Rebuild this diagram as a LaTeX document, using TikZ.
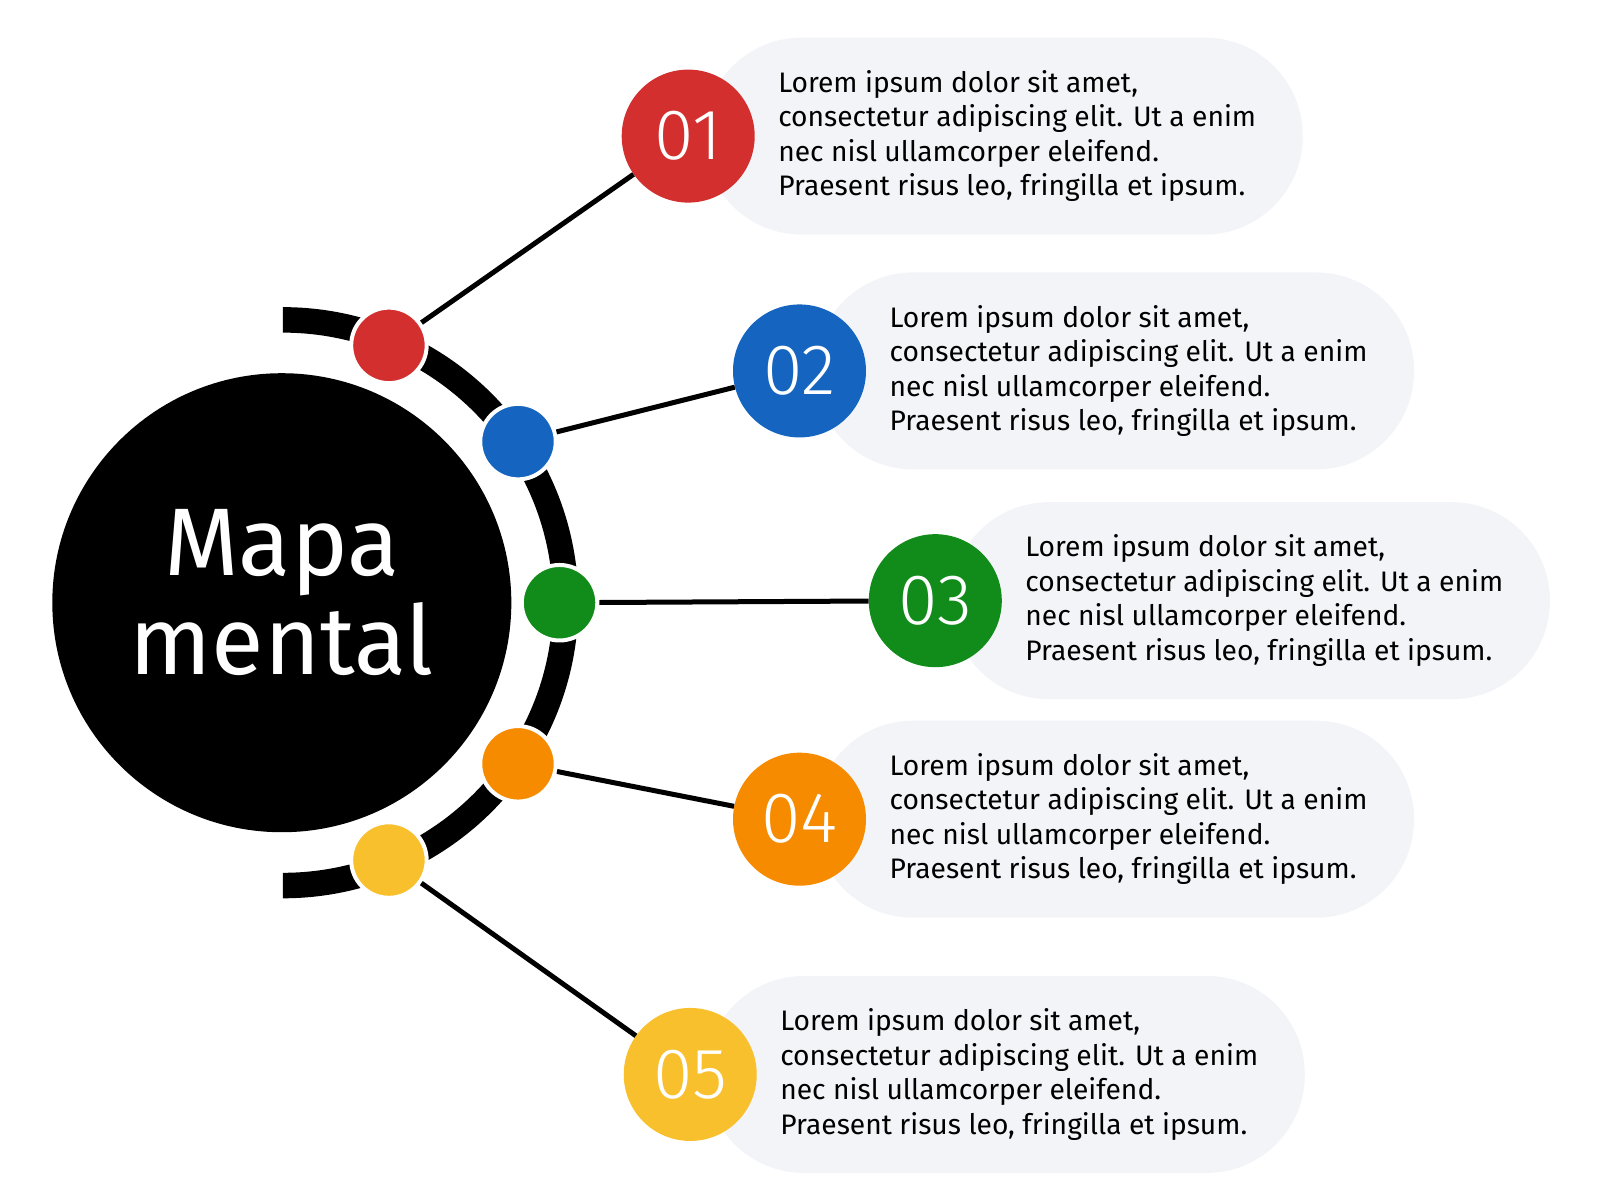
\documentclass[tikz,border=0pt]{standalone}
\usepackage{fontspec}
\setmainfont{Fira Sans}
\newfontfamily\numfont{Fira Sans Light}
\usetikzlibrary{positioning}
\definecolor{mred}{HTML}{D32F2F}
\definecolor{mblue}{HTML}{1565C0}
\definecolor{mgreen}{HTML}{118C1A}
\definecolor{morange}{HTML}{F78B00}
\definecolor{myellow}{HTML}{F9C02E}
\definecolor{pillgray}{HTML}{F3F4F8}
\tikzset{
  dot/.style={circle, draw=white, line width=4pt, minimum size=75.5pt, inner sep=0pt},
  numdisc/.style={circle, minimum size=133pt, inner sep=0pt, text=white, font=\numfont\fontsize{71.5}{71.5}\selectfont},
  pill/.style={fill=pillgray, rounded corners=98pt, minimum width=599pt, minimum height=197pt, anchor=west, inner sep=0pt},
  blurb/.style={anchor=west, align=left, inner sep=0pt, font=\fontsize{28.2}{34.5}\selectfont},
  link/.style={line width=5pt}
}
\begin{document}
\begin{tikzpicture}[x=1.021pt, y=1.021pt]
    \useasboundingbox (0,0) rectangle (1567,1175.3);
    \coordinate (hub) at (276,585);
    \draw[line width=25.5pt] (277,862) arc(90:-90:277);
    \node[circle, fill=black, minimum size=459pt] (core) at (hub) {};
    \node[text=white, align=center, font=\fontsize{96}{99}\selectfont] (title) at ([shift={(0,10)}]hub) {Mapa\\mental};
    \foreach \i/\ang/\rad/\col/\nx/\ny in {1/67.4/273/mred/674/1042, 2/34.3/280/mblue/783/812,
        3/0/272/mgreen/916/587, 4/-34.3/280/morange/783/373, 5/-67.4/273/myellow/676/123}
    {
        \node[pill] (box\i) at (\nx+15,\ny) {};
        \node[dot, fill=\col] (dot\i) at ([shift={(\ang:\rad)}]hub) {};
        \node[numdisc, fill=\col] (num\i) at (\nx,\ny) {0\i};
        \draw[link] (dot\i) -- (num\i);
        \node[blurb] (txt\i) at (\nx+88,\ny) {Lorem ipsum dolor sit amet,\\consectetur adipiscing elit. Ut a enim\\nec nisl ullamcorper eleifend.\\Praesent risus leo, fringilla et ipsum.};
    }
\end{tikzpicture}
\end{document}
